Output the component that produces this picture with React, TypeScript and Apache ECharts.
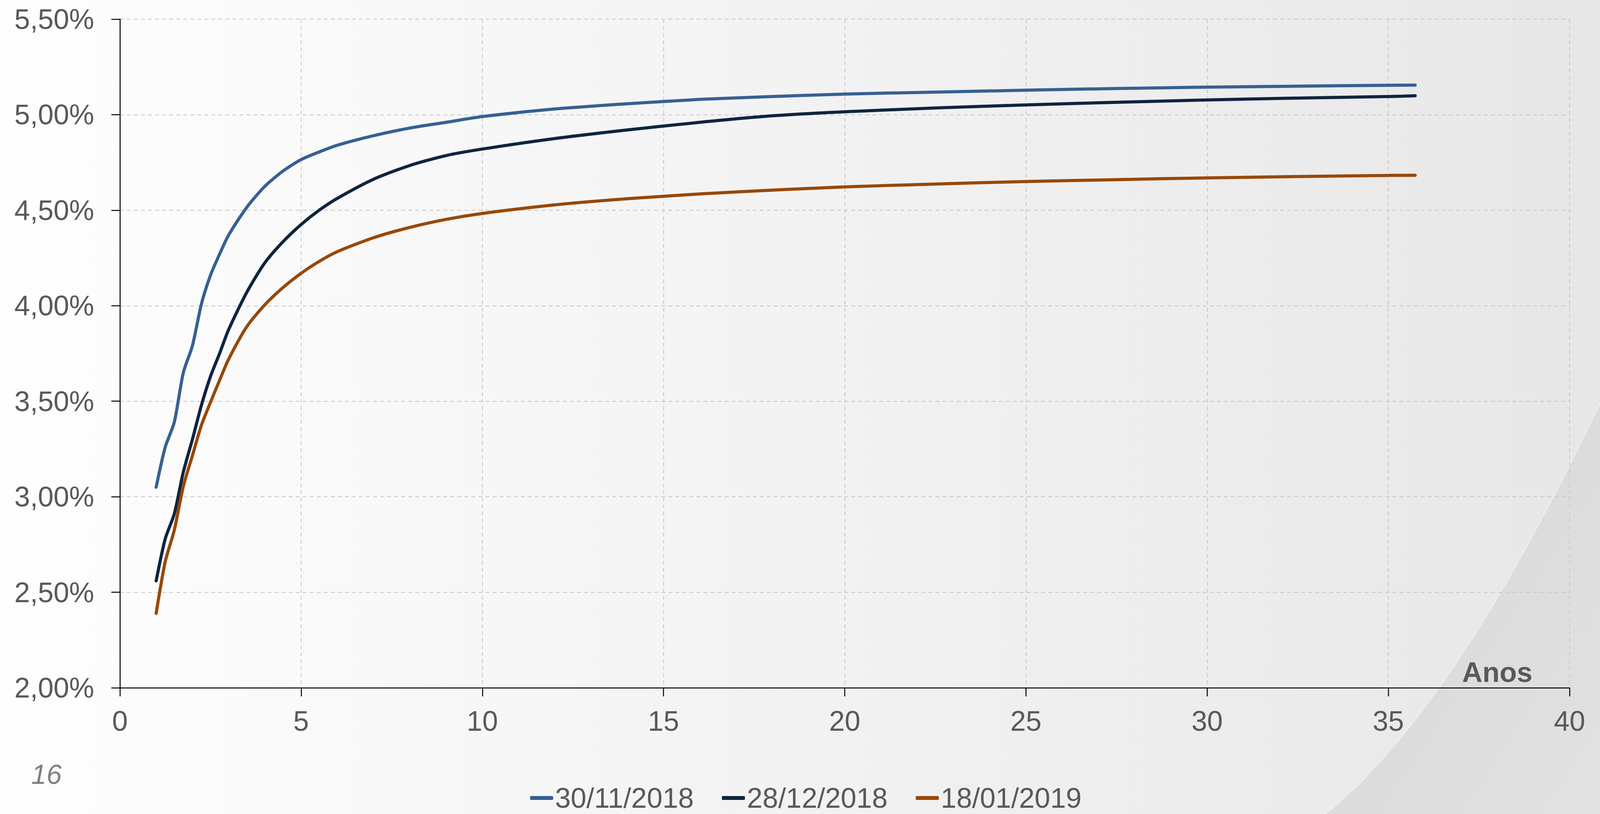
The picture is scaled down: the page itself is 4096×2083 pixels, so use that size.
import React, { useEffect, useRef } from "react";
import * as echarts from "echarts";

// Maturities (years) at which the curves were read
const maturities = [1, 1.25, 1.5, 1.75, 2, 2.25, 2.5, 2.75, 3, 3.5, 4, 4.5, 5, 5.5, 6, 7, 8, 9, 10, 12, 14, 16, 18, 20, 22.5, 25, 27.5, 30, 32.5, 35, 35.74];

// Yields (%)
const curve20181130 = [3.05, 3.26, 3.39, 3.65, 3.79, 4.01, 4.16, 4.27, 4.37, 4.515, 4.625, 4.705, 4.765, 4.805, 4.84, 4.89, 4.93, 4.96, 4.99, 5.03, 5.057, 5.08, 5.095, 5.108, 5.118, 5.128, 5.137, 5.144, 5.149, 5.154, 5.155];
const curve20181228 = [2.56, 2.78, 2.91, 3.13, 3.30, 3.48, 3.63, 3.75, 3.875, 4.07, 4.225, 4.335, 4.425, 4.50, 4.562, 4.662, 4.734, 4.786, 4.82, 4.875, 4.92, 4.96, 4.994, 5.015, 5.035, 5.051, 5.065, 5.077, 5.087, 5.095, 5.099];
const curve20190118 = [2.39, 2.66, 2.825, 3.055, 3.215, 3.375, 3.495, 3.61, 3.72, 3.89, 4.005, 4.095, 4.17, 4.232, 4.283, 4.356, 4.41, 4.452, 4.483, 4.528, 4.56, 4.585, 4.605, 4.622, 4.637, 4.65, 4.66, 4.669, 4.676, 4.682, 4.683];

const seriesNames = ["30/11/2018", "28/12/2018", "18/01/2019"];
const seriesColors = ["#376092", "#0F243E", "#984807"];

const xAxisName = "Anos";
const pageNumber = "16";

const FONT = "'Liberation Sans', Arial, Helvetica, sans-serif";
const W = 4096;
const H = 2083;

echarts.graphic.registerShape(
  "cornerShade",
  echarts.graphic.extendPath(
    "M3393 2083 C3653 1875 3896 1451 4096 1031 L4100 1031 L4100 2090 L3393 2090 Z",
    {}
  )
);

export default function App() {
  const ref = useRef<HTMLDivElement>(null);

  useEffect(() => {
    if (!ref.current) return;
    const chart = echarts.init(ref.current, null, { renderer: "svg", width: W, height: H });
    const all = [curve20181130, curve20181228, curve20190118];
    const axisColor = "#000000";
    const labelColor = "#595959";
    const gridStyle = { color: "#c6c6c6", width: 2, type: [10, 8] as any };

    chart.setOption({
      animation: false,
      textStyle: { fontFamily: FONT },
      grid: { left: 307, right: 78, top: 49, bottom: 323, containLabel: false },
      xAxis: {
        type: "value",
        min: 0,
        max: 40,
        interval: 5,
        axisLine: { show: true, lineStyle: { color: axisColor, width: 2.5 } },
        axisTick: { show: true, length: 22, lineStyle: { color: axisColor, width: 2.5 } },
        axisLabel: { color: labelColor, fontSize: 72, fontFamily: FONT, margin: 49 },
        splitLine: { show: true, lineStyle: gridStyle },
      },
      yAxis: {
        type: "value",
        min: 2,
        max: 5.5,
        interval: 0.5,
        axisLine: { show: true, lineStyle: { color: axisColor, width: 2.5 } },
        axisTick: { show: true, length: 22, lineStyle: { color: axisColor, width: 2.5 } },
        axisLabel: {
          color: labelColor,
          fontSize: 72,
          fontFamily: FONT,
          margin: 66,
          formatter: (v: number) => v.toFixed(2).replace(".", ",") + "%",
        },
        splitLine: { show: true, lineStyle: gridStyle },
      },
      legend: {
        left: 1357,
        top: 2006,
        padding: 0,
        itemGap: 72,
        itemWidth: 59,
        itemHeight: 10,
        icon: "roundRect",
        textStyle: { color: labelColor, fontSize: 72, lineHeight: 64, fontFamily: FONT },
        data: seriesNames,
      },
      series: all.map((vals, i) => ({
        name: seriesNames[i],
        type: "line",
        data: maturities.map((m, j) => [m, vals[j]]),
        showSymbol: false,
        symbol: "none",
        smooth: 0.25,
        color: seriesColors[i],
        lineStyle: { color: seriesColors[i], width: 8, cap: "round", join: "round" },
        z: 3,
      })),
      graphic: [
        {
          type: "cornerShade",
          x: 0,
          y: 0,
          z: -10,
          silent: true,
          style: {
            fill: {
              type: "linear",
              x: 0,
              y: 0,
              x2: 1,
              y2: 1,
              colorStops: [
                { offset: 0, color: "#d5d5d6" },
                { offset: 1, color: "#e2e2e3" },
              ],
            },
            stroke: "#efefef",
            lineWidth: 2.5,
          },
        },
        {
          type: "text",
          x: 3923,
          y: 1720,
          z: 5,
          style: {
            text: xAxisName,
            fontSize: 72,
            fontWeight: "bold",
            fontFamily: FONT,
            fill: labelColor,
            textAlign: "right",
            textVerticalAlign: "middle",
          },
        },
        {
          type: "text",
          x: 119,
          y: 1982,
          style: {
            text: pageNumber,
            fontSize: 70,
            fontStyle: "italic",
            fontFamily: FONT,
            fill: "#808080",
            textAlign: "center",
            textVerticalAlign: "middle",
          },
        },
      ],
    });
    return () => chart.dispose();
  }, []);

  return (
    <div
      ref={ref}
      style={{
        position: "absolute",
        left: 0,
        top: 0,
        width: W,
        height: H,
        background: "linear-gradient(90deg, #fefefe 0%, #f7f7f7 30%, #efeff0 65%, #e7e7e8 100%)",
      }}
    />
  );
}
